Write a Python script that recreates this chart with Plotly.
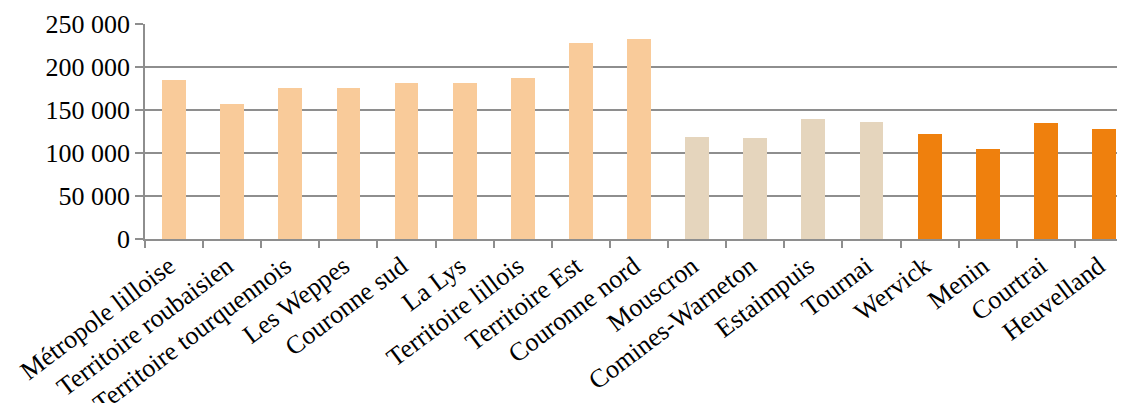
import plotly.graph_objects as go

categories = ["Métropole lilloise", "Territoire roubaisien", "Territoire tourquennois",
              "Les Weppes", "Couronne sud", "La Lys", "Territoire lillois",
              "Territoire Est", "Couronne nord", "Mouscron", "Comines-Warneton",
              "Estaimpuis", "Tournai", "Wervick", "Menin", "Courtrai", "Heuvelland"]
values = [185000, 157000, 175500, 175500, 181500, 181500, 187500, 228000, 232500,
          118500, 117500, 139500, 136000, 122000, 104500, 135000, 128000]
groups = ["FR"] * 9 + ["WAL"] * 4 + ["FLA"] * 4

y_tickvals = [0, 50000, 100000, 150000, 200000, 250000]
y_ticktext = ["0", "50 000", "100 000", "150 000", "200 000", "250 000"]

group_colors = {"FR": "#F9CB9A", "WAL": "#E5D5BD", "FLA": "#EF800D"}

fig = go.Figure(go.Bar(
    x=categories, y=values,
    marker=dict(color=[group_colors[g] for g in groups], line=dict(width=0)),
    width=0.41,
))

font = dict(family="Liberation Serif, Times New Roman, serif", size=26, color="black")
grid = "#8E8E8E"

# page body has an 8px margin; offsets compensate so the plot lands where the reference has it
fig.update_layout(
    width=1125, height=403,
    margin=dict(l=137, r=0, t=16, b=172, autoexpand=False),
    plot_bgcolor="white", paper_bgcolor="white",
    showlegend=False, font=font,
    bargap=0,
)
fig.update_xaxes(
    type="category", range=[-0.5, 16.5], tickangle=-37,
    showline=True, linecolor=grid, linewidth=1.5,
    ticks="outside", tickson="boundaries", ticklen=7, tickcolor=grid, tickwidth=1.5,
    showgrid=False, automargin=False, tickfont=font,
    ticklabelshift=-5, ticklabelstandoff=0,
)
fig.update_yaxes(
    range=[0, 250000], tickvals=y_tickvals, ticktext=y_ticktext,
    showline=True, linecolor=grid, linewidth=1.5,
    ticks="outside", ticklen=8, tickcolor=grid, tickwidth=1.5,
    showgrid=True, gridcolor=grid, gridwidth=1.5, zeroline=False,
    automargin=False, tickfont=font,
)

fig.write_html("out.html")
